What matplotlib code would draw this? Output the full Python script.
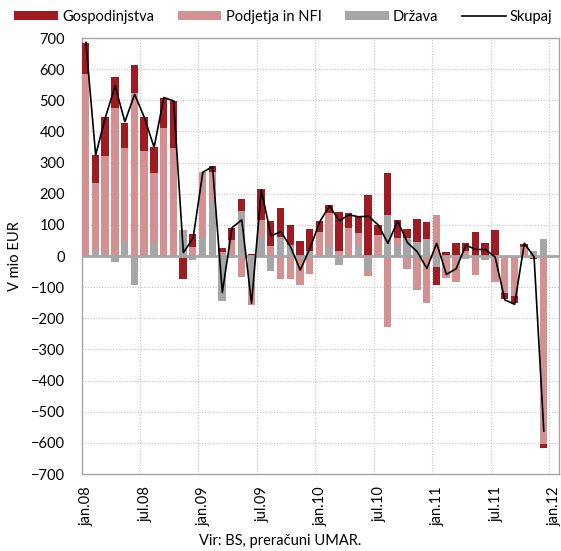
import numpy as np
import matplotlib
matplotlib.use("Agg")
import matplotlib.pyplot as plt

# monthly data jan.08 - dec.11, mio EUR
gospodinjstva = [100, 91, 124, 101, 82, 91, 109, 81, 99, 152, -74, 42,
                 0, 18, 13, 41, 37, 5, 100, 81, 93, 65, 48, 69,
                 35, 27, 125, 46, 53, 196, 33, 134, 58, 29, 72, 54,
                 -57, 13, 41, 25, 78, 41, 84, -18, -22, 8, -11, -14]
podjetja = [585, 216, 315, 475, 302, 522, 336, 227, 407, 346, 6, 30,
            209, 93, 12, 45, -66, -54, 53, 32, -75, -75, -93, -58,
            75, 104, 17, 91, 40, -16, 64, -227, 25, -43, -109, -150,
            132, -69, -82, 16, -61, 0, -85, -119, -128, 29, 0, -603]
drzava = [0, 17, 6, -20, 44, -93, 0, 41, 3, 0, 77, -12,
          62, 178, -145, 5, 146, -103, 62, -47, 62, 35, 0, 17,
          3, 33, -29, -5, 33, -47, 3, 132, 33, 57, 46, 54,
          -36, 0, 0, -9, 0, -12, 0, 0, 0, 0, 17, 56]
skupaj = [686, 324, 445, 546, 431, 519, 445, 349, 509, 498, 11, 57,
          269, 287, -117, 91, 116, -152, 212, 65, 78, 30, -45, 25,
          110, 161, 113, 132, 126, 128, 100, 41, 112, 43, 14, -40,
          41, -59, -41, 35, 21, 21, -3, -141, -155, 41, -3, -562]
tick_labels = ["jan.08", "jul.08", "jan.09", "jul.09", "jan.10",
               "jul.10", "jan.11", "jul.11", "jan.12"]

plt.rcParams['font.family'] = ['Lato', 'DejaVu Sans']

fig = plt.figure(figsize=(5.61, 5.51), dpi=100)
ax = fig.add_axes([0.1453, 0.1397, 0.851, 0.7913])

n = len(skupaj)
x = np.arange(n)
pos_base = np.zeros(n)
neg_base = np.zeros(n)
series = [(drzava, "#A6A6A6", "Država"),
          (podjetja, "#D39191", "Podjetja in NFI"),
          (gospodinjstva, "#9E1B22", "Gospodinjstva")]
handles = {}
for vals, col, name in series:
    v = np.array(vals, dtype=float)
    base = np.where(v >= 0, pos_base, neg_base)
    h = ax.bar(x + 0.42, v, width=0.76, bottom=base, color=col,
               linewidth=0, zorder=3, label=name)
    handles[name] = h
    pos_base += np.where(v >= 0, v, 0)
    neg_base += np.where(v < 0, v, 0)

line, = ax.plot(x + 0.45, skupaj, color="black", lw=1.2, zorder=5,
                label="Skupaj")

ax.axhline(0, color="#A6A6A6", lw=2, zorder=4)

ax.set_xlim(0, 49)
ax.set_ylim(-700, 700)
ax.set_yticks(np.arange(-700, 701, 100))
ax.set_xticks(np.arange(0, 49, 6) + 0.55)
ax.set_xticklabels(tick_labels, rotation=90)
ax.tick_params(length=0, labelsize=10.5, colors="black")
ax.tick_params(axis="x", pad=9)
ax.tick_params(axis="y", pad=12)

for yv in np.arange(-700, 701, 100):
    ax.axhline(yv, color="#C4C4C4", lw=0.8, ls=(0, (1, 1.5)), zorder=1)
for xv in np.arange(6, 49, 6):
    ax.axvline(xv, color="#C4C4C4", lw=0.8, ls=(0, (1, 1.5)), zorder=1)

for s in ax.spines.values():
    s.set_color("#A6A6A6")
    s.set_linewidth(1)

ax.set_ylabel("V mio EUR", fontsize=10.5, labelpad=6)

order = ["Gospodinjstva", "Podjetja in NFI", "Država"]
fig.legend([handles[k] for k in order] + [line], order + ["Skupaj"],
           loc="center", bbox_to_anchor=(0.505, 0.97), ncol=4, frameon=False,
           fontsize=10.5, handlelength=3.0, handleheight=0.6,
           handletextpad=0.3, columnspacing=1.6)

fig.text(0.5, 0.018, "Vir: BS, preračuni UMAR.", ha="center", va="center",
         fontsize=10.5)

fig.savefig("out.png", dpi=100)
